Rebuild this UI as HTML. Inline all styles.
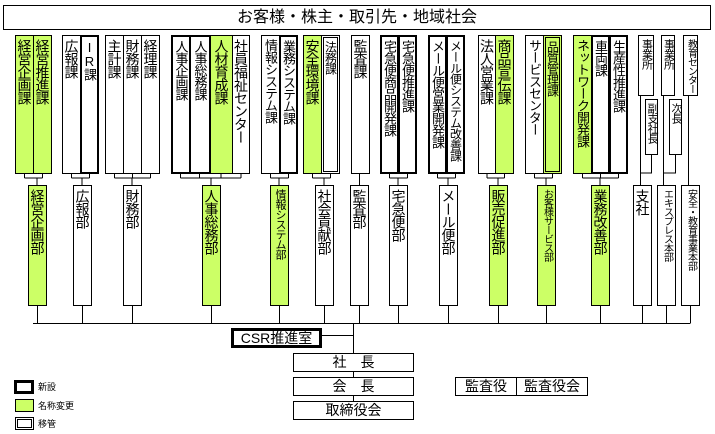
<!DOCTYPE html>
<html><head><meta charset="utf-8"><style>
*{box-sizing:border-box;margin:0;padding:0}
body{width:715px;height:434px;background:#fff;position:relative;overflow:hidden;font-family:"Liberation Sans","Noto Sans CJK JP",sans-serif;color:#000}
.b{position:absolute;border:1px solid #000;background:#fff;writing-mode:vertical-rl;text-orientation:upright;font-size:14px;line-height:1;display:flex;justify-content:flex-start;align-items:center;padding-top:3px;white-space:nowrap;overflow:visible;letter-spacing:-1px}
.s{top:35px;height:139px}
.d{top:185px;height:121px}
.g{background:#ccff66}
.t{border:2px solid #000;font-size:13px}
.w{border:3px double #000;font-size:12px}
.h{position:absolute;border:1px solid #000;background:#fff;text-align:center;font-size:14px;line-height:17px;white-space:nowrap}
svg{position:absolute;left:0;top:0}
</style></head><body>
<svg width="715" height="434" stroke="#000" stroke-width="1" fill="none" shape-rendering="crispEdges">
<path d="M24.5 173V178M42.5 173V178M24.5 178H42.5M37 178V185"/>
<path d="M71.5 173V178M89.5 173V178M71.5 178H89.5M82 178V185"/>
<path d="M114.5 173V178M132.5 173V178M150.5 173V178M114.5 178H150.5M132 178V185"/>
<path d="M180.5 173V178M199.5 173V178M221 173V178M241 173V178M180.5 178H241M211 178V185"/>
<path d="M270.5 173V178M288.5 173V178M270.5 178H288.5M279 178V185"/>
<path d="M312.5 173V178M330.5 173V178M312.5 178H330.5M324 178V185"/>
<path d="M359.5 173V185"/>
<path d="M389.5 173V178M407.5 173V178M389.5 178H407.5M398 178V185"/>
<path d="M437.5 173V178M455.5 173V178M437.5 178H455.5M448 178V185"/>
<path d="M487 173V178M504.5 173V178M487 178H504.5M498 178V185"/>
<path d="M534.5 173V178M552.5 173V178M534.5 178H552.5M546 178V185"/>
<path d="M582.5 173V178M600.5 173V178M618.5 173V178M582.5 178H618.5M600 178V185"/>
<path d="M640.5 95V185M651.5 155V173H640.5"/>
<path d="M663.5 95V185M675.5 155V173H663.5"/>
<path d="M688.5 95V185"/>
<path d="M37.5 305V323M82.5 305V323M132.5 305V323M211.5 305V323M279.5 305V323M324.5 305V323M359.5 305V323M398.5 305V323M448.5 305V323M498.5 305V323M546.5 305V323M600.5 305V323M642.5 305V323M666.5 305V323M690.5 305V323"/>
<path d="M33 323.5H690.5M353.5 323V353M353.5 371V377M353.5 395V401M321 335.5H353"/>
</svg>

<div class="h" style="left:3px;top:5px;width:708px;height:25px;font-size:16px;line-height:23px">お客様・株主・取引先・地域社会</div>

<div class="b s g" style="left:15px;width:19px">経営企画課</div>
<div class="b s g" style="left:33px;width:19px">経営推進課</div>
<div class="b s" style="left:62px;width:19px">広報課</div>
<div class="b s t" style="left:80px;width:19px">IR課</div>
<div class="b s" style="left:105px;width:19px">主計課</div>
<div class="b s" style="left:123px;width:19px">財務課</div>
<div class="b s" style="left:141px;width:19px">経理課</div>
<div class="b s t" style="left:171px;width:20px">人事企画課</div>
<div class="b s t" style="left:189px;width:22px">人事総務課</div>
<div class="b s g" style="left:210px;width:23px">人材育成課</div>
<div class="b s" style="left:232px;width:18px">社員福祉センター</div>
<div class="b s" style="left:261px;width:19px;font-size:13px">情報システム課</div>
<div class="b s t" style="left:279px;width:19px;font-size:13px">業務システム課</div>
<div class="b s g" style="left:303px;width:19px">安全環境課</div>
<div class="b s w" style="left:321px;width:19px">法務課</div>
<div class="b s" style="left:351px;width:19px">監査課</div>
<div class="b s t" style="left:380px;width:19px;font-size:13px">宅急便商品開発課</div>
<div class="b s t" style="left:398px;width:19px">宅急便推進課</div>
<div class="b s t" style="left:428px;width:19px;font-size:13px">メール便営業開発課</div>
<div class="b s t" style="left:446px;width:19px;font-size:12px">メール便システム改善課</div>
<div class="b s" style="left:478px;width:18px">法人営業課</div>
<div class="b s g" style="left:495px;width:19px">商品宣伝課</div>
<div class="b s" style="left:525px;width:19px;font-size:13px">サービスセンター</div>
<div class="b s g w" style="left:543px;width:19px">品質管理課</div>
<div class="b s g" style="left:573px;width:19px;font-size:13px">ネットワーク開発課</div>
<div class="b s t" style="left:591px;width:19px">車両課</div>
<div class="b s t" style="left:609px;width:19px">生産性推進課</div>

<div class="b" style="left:638px;top:35px;width:16px;height:61px;font-size:11px">事業所</div>
<div class="b" style="left:661px;top:35px;width:14px;height:61px;font-size:11px">事業所</div>
<div class="b" style="left:683px;top:35px;width:15px;height:61px;font-size:10px">教育センター</div>
<div class="b" style="left:645px;top:99px;width:13px;height:56px;font-size:11px">副支社長</div>
<div class="b" style="left:669px;top:99px;width:13px;height:56px;font-size:11px">次長</div>

<div class="b d g" style="left:28px;width:19px">経営企画部</div>
<div class="b d" style="left:73px;width:19px">広報部</div>
<div class="b d" style="left:123px;width:19px">財務部</div>
<div class="b d g" style="left:202px;width:19px">人事総務部</div>
<div class="b d g" style="left:270px;width:19px;font-size:11px">情報システム部</div>
<div class="b d" style="left:315px;width:19px">社会貢献部</div>
<div class="b d" style="left:350px;width:19px">監査部</div>
<div class="b d" style="left:389px;width:19px">宅急便部</div>
<div class="b d" style="left:439px;width:19px">メール便部</div>
<div class="b d g" style="left:489px;width:19px">販売促進部</div>
<div class="b d g" style="left:537px;width:19px;font-size:10px">お客様サービス部</div>
<div class="b d g" style="left:591px;width:19px">業務改善部</div>
<div class="b d" style="left:633px;width:19px">支社</div>
<div class="b d" style="left:657px;width:19px;font-size:10px">エキスプレス本部</div>
<div class="b d" style="left:681px;width:19px;font-size:10px">安全・教育事業本部</div>

<div class="h" style="left:231px;top:328px;width:91px;height:20px;border:3px solid #000;line-height:14px;font-size:14px">CSR推進室</div>
<div class="h" style="left:293px;top:353px;width:121px;height:19px">社　長</div>
<div class="h" style="left:293px;top:377px;width:121px;height:19px">会　長</div>
<div class="h" style="left:293px;top:401px;width:121px;height:19px">取締役会</div>
<div class="h" style="left:455px;top:377px;width:62px;height:19px">監査役</div>
<div class="h" style="left:516px;top:377px;width:72px;height:19px">監査役会</div>

<div style="position:absolute;left:14px;top:380px;width:20px;height:14px;border:3px solid #000"></div>
<div style="position:absolute;left:38px;top:380px;font-size:9px">新設</div>
<div style="position:absolute;left:15px;top:399px;width:19px;height:13px;border:1px solid #000;background:#ccff66"></div>
<div style="position:absolute;left:38px;top:399px;font-size:9px">名称変更</div>
<div style="position:absolute;left:15px;top:417px;width:19px;height:13px;border:3px double #000"></div>
<div style="position:absolute;left:38px;top:417px;font-size:9px">移管</div>
</body></html>
